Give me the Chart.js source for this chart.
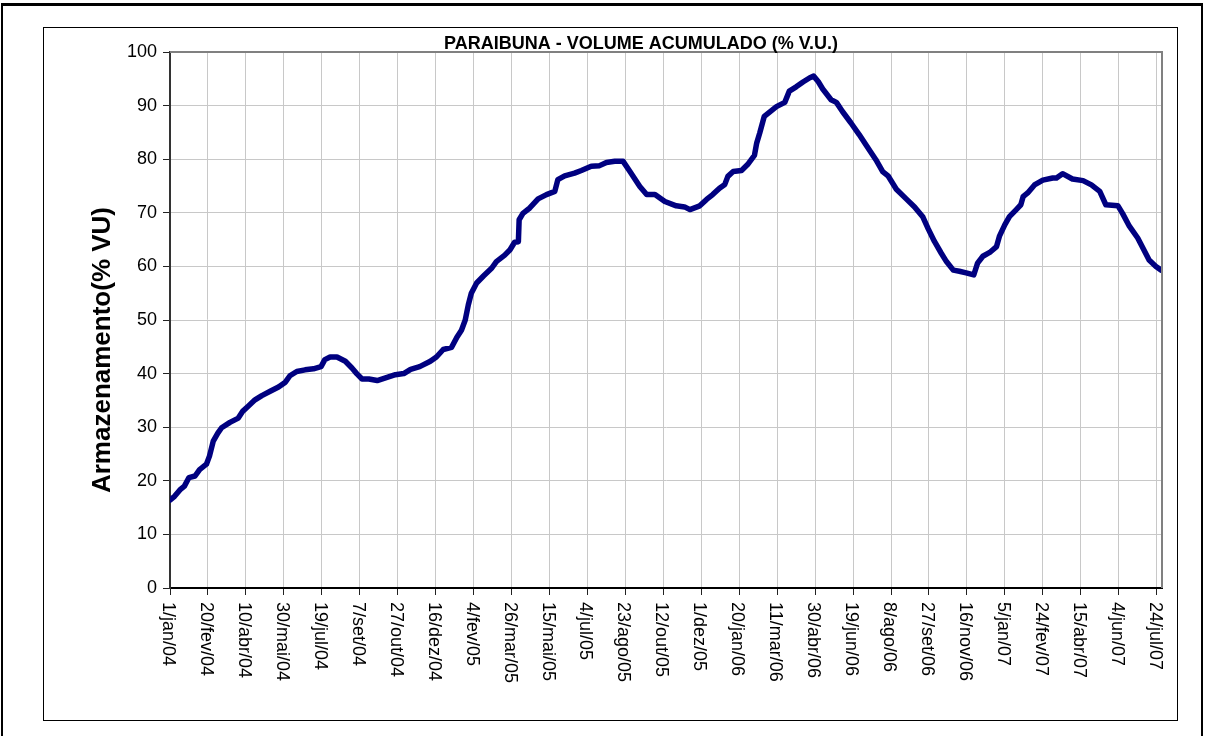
<!DOCTYPE html>
<html lang="pt">
<head>
<meta charset="UTF-8">
<title>Paraibuna - Volume Acumulado</title>
<script src="https://cdn.jsdelivr.net/npm/chart.js"></script>
<style>
  body { margin: 0; background: #fff; }
  #frame { position: absolute; left: 1px; top: 3px; width: 1198px; height: 760px;
           border-top: 3px solid #000; border-left: 2px solid #000; border-right: 2px solid #000; }
  #box { position: absolute; left: 43px; top: 27px; width: 1133px; height: 692px; border: 1px solid #000; }
  #chart { display: block; }
</style>
</head>
<body>
<div id="frame"></div>
<div id="box"><canvas id="chart" width="1133" height="692"></canvas></div>
<script>
// days since 1/jan/04
const days = [0, 6, 13, 19, 25, 33, 39, 48, 52, 57, 63, 68, 79, 90, 96, 103, 112, 121, 132, 143,
  152, 158, 167, 178, 189, 199, 204, 211, 220, 231, 240, 246, 253, 262, 273, 284, 297, 308, 317, 329,
  343, 351, 360, 371, 378, 384, 389, 393, 397, 404, 413, 424, 430, 441, 448, 454, 459, 460, 465, 474,
  485, 496, 507, 511, 520, 533, 542, 555, 566, 575, 586, 597, 606, 619, 628, 639, 652, 667, 678, 685,
  698, 707, 715, 724, 731, 735, 742, 753, 761, 770, 773, 777, 783, 790, 799, 810, 816, 825, 834, 843,
  848, 854, 860, 871, 878, 886, 897, 908, 921, 930, 939, 946, 957, 970, 981, 992, 999, 1007, 1016, 1023,
  1032, 1040, 1049, 1059, 1064, 1071, 1080, 1089, 1093, 1100, 1106, 1115, 1121, 1124, 1130, 1139, 1150, 1163, 1168, 1176,
  1189, 1203, 1214, 1225, 1233, 1249, 1255, 1264, 1275, 1282, 1290, 1299, 1306];

// armazenamento (% VU)
const volume = [16.4, 17.1, 18.3, 19.0, 20.6, 20.9, 22.1, 23.1, 24.6, 27.4, 28.9, 29.9, 30.9, 31.7, 33.0, 33.9, 35.1, 35.9, 36.7, 37.5,
  38.4, 39.6, 40.4, 40.7, 40.9, 41.3, 42.6, 43.1, 43.1, 42.3, 41.0, 40.0, 39.0, 39.0, 38.7, 39.2, 39.8, 40.0, 40.8, 41.3,
  42.3, 43.1, 44.5, 44.9, 46.8, 48.1, 50.0, 52.8, 55.0, 56.9, 58.2, 59.7, 60.9, 62.1, 63.1, 64.5, 64.6, 68.7, 69.9, 70.9,
  72.6, 73.4, 74.0, 76.2, 76.9, 77.4, 77.9, 78.7, 78.8, 79.4, 79.6, 79.6, 77.7, 74.9, 73.4, 73.4, 72.1, 71.3, 71.1, 70.6,
  71.3, 72.5, 73.4, 74.6, 75.3, 76.8, 77.7, 77.9, 79.0, 80.7, 83.0, 84.9, 88.0, 88.8, 89.8, 90.6, 92.7, 93.5, 94.4, 95.2,
  95.5, 94.5, 93.1, 91.1, 90.6, 88.9, 86.8, 84.6, 81.8, 79.9, 77.7, 76.9, 74.4, 72.6, 71.1, 69.2, 67.0, 64.7, 62.5, 60.9,
  59.3, 59.1, 58.8, 58.4, 60.6, 61.9, 62.6, 63.7, 65.7, 67.8, 69.3, 70.6, 71.5, 73.0, 73.7, 75.2, 76.1, 76.5, 76.5, 77.3,
  76.3, 76.0, 75.2, 74.0, 71.5, 71.3, 69.9, 67.5, 65.3, 63.4, 61.2, 60.0, 59.3];

const tickDays = [0, 50, 100, 150, 200, 250, 300, 350, 400, 450, 500, 550, 600, 650, 700,
  750, 800, 850, 900, 950, 1000, 1050, 1100, 1150, 1200, 1250, 1300];
const tickLabels = ['1/jan/04', '20/fev/04', '10/abr/04', '30/mai/04', '19/jul/04', '7/set/04', '27/out/04',
  '16/dez/04', '4/fev/05', '26/mar/05', '15/mai/05', '4/jul/05', '23/ago/05', '12/out/05', '1/dez/05',
  '20/jan/06', '11/mar/06', '30/abr/06', '19/jun/06', '8/ago/06', '27/set/06', '16/nov/06', '5/jan/07',
  '24/fev/07', '15/abr/07', '4/jun/07', '24/jul/07'];

const chartTitle = 'PARAIBUNA - VOLUME ACUMULADO (% V.U.)';
const yTitle = 'Armazenamento(% VU)';

const extras = {
  id: 'extras',
  afterDraw(chart) {
    const ctx = chart.ctx;
    const a = chart.chartArea;
    const xs = chart.scales.x;
    ctx.save();
    // top / right plot border
    ctx.strokeStyle = '#808080';
    ctx.lineWidth = 2;
    ctx.beginPath();
    ctx.moveTo(a.left, a.top);
    ctx.lineTo(a.right, a.top);
    ctx.lineTo(a.right, a.bottom);
    ctx.stroke();

    ctx.fillStyle = '#000';
    ctx.font = 'bold 18px "Liberation Sans", Arial, sans-serif';
    ctx.textAlign = 'center';
    ctx.textBaseline = 'alphabetic';
    ctx.fillText(chartTitle, 597, 21);

    ctx.save();
    ctx.translate(59, 322);
    ctx.rotate(-Math.PI / 2);
    ctx.font = 'bold 26px "Liberation Sans", Arial, sans-serif';
    ctx.textBaseline = 'middle';
    ctx.fillText(yTitle, 0, 0);
    ctx.restore();

    // x labels, rotated clockwise
    ctx.font = '18px "Liberation Sans", Arial, sans-serif';
    ctx.textAlign = 'left';
    ctx.textBaseline = 'middle';
    tickDays.forEach((d, i) => {
      ctx.save();
      ctx.translate(xs.getPixelForValue(d) - 2, a.bottom + 14);
      ctx.rotate(Math.PI / 2);
      ctx.fillText(tickLabels[i], 0, 0);
      ctx.restore();
    });
    ctx.restore();
  }
};

new Chart(document.getElementById('chart'), {
  type: 'line',
  data: {
    datasets: [{
      data: days.map((d, i) => ({ x: d, y: volume[i] })),
      borderColor: '#000080',
      borderWidth: 5.5,
      pointRadius: 0,
      tension: 0,
      borderJoinStyle: 'round',
      borderCapStyle: 'round'
    }]
  },
  options: {
    responsive: false,
    animation: false,
    layout: { padding: { top: 24, right: 15, left: 0, bottom: 0 } },
    plugins: { legend: { display: false }, tooltip: { enabled: false } },
    scales: {
      x: {
        type: 'linear',
        min: 0,
        max: 1307,
        afterBuildTicks: s => { s.ticks = tickDays.map(v => ({ value: v })); },
        afterFit: s => { s.height = 132; },
        ticks: { display: false },
        grid: { color: '#c8c8c8', tickColor: '#222', tickLength: 7 },
        border: { color: '#000', width: 2 }
      },
      y: {
        min: 0,
        max: 100,
        afterFit: s => { s.width = 126; },
        ticks: {
          stepSize: 10,
          padding: 6,
          color: '#000',
          font: { family: '"Liberation Sans", Arial, sans-serif', size: 18 }
        },
        grid: { color: ctx => ctx.tick && ctx.tick.value === 100 ? '#808080' : '#c8c8c8', tickColor: '#222', tickLength: 7 },
        border: { color: '#333', width: 2 }
      }
    }
  },
  plugins: [extras]
});
</script>
</body>
</html>
